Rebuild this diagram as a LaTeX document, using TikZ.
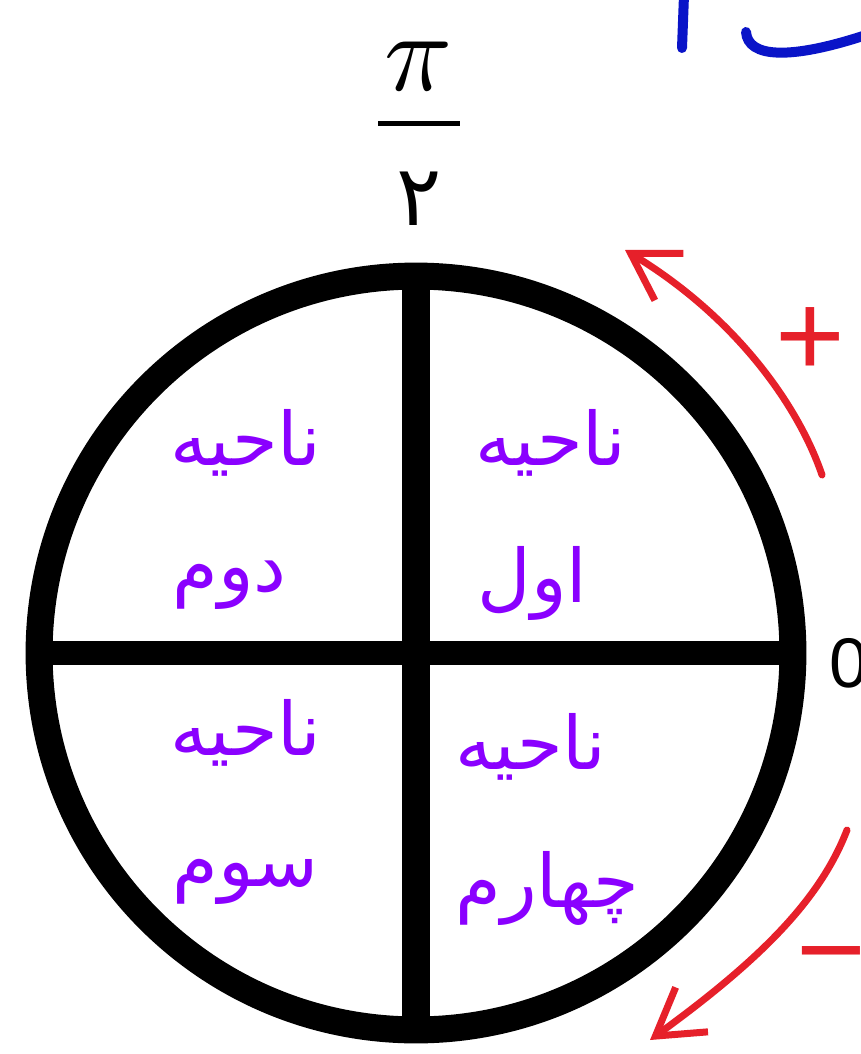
\documentclass[tikz,border=0pt]{standalone}
\usepackage{fontspec}
\usetikzlibrary{arrows.meta}
\TeXXeTstate=1
\newfontfamily\arabicfont[Script=Arabic]{DejaVu Sans}
\newfontfamily\signfont{Liberation Sans}
\definecolor{region}{HTML}{8A00FF}
\definecolor{sign}{HTML}{E6202A}
\definecolor{pen}{HTML}{0A14C8}

\begin{document}
\begin{tikzpicture}[x=0.02cm,y=-0.02cm,
  regionlabel/.style={region,font=\fontsize{42}{46}\arabicfont,anchor=west,inner sep=0pt},
  signarrow/.style={sign,line width=0.14cm,line cap=round,-{Straight Barb[length=0.9cm,width=1.1cm]}},
  signmark/.style={sign,font=\fontsize{68}{70}\signfont,inner sep=0pt},
  penstroke/.style={pen,line width=0.2cm,line cap=round}]
  % Canvas
  \fill[white] (0,0) rectangle (861,1054);
  \useasboundingbox (0,0) rectangle (861,1054);

  % Circle and axes
  \node[draw,circle,line width=0.54cm,minimum size=15.08cm,inner sep=0pt,outer sep=0pt] (dial) at (416,653) {};
  \draw[line width=0.56cm] (dial.north) -- (dial.south);
  \draw[line width=0.48cm] (dial.west) -- (dial.east);

  % pi over 2
  \node[scale=6.4,inner sep=0pt] (pinum) at (419,66) {$\pi$};
  \coordinate (barleft) at (378,124);
  \coordinate (barright) at (460,124);
  \draw[line width=0.1cm] (barleft) -- (barright);
  \node[font=\fontsize{48}{50}\arabicfont,inner sep=0pt] (piden) at (419,199) {۲};

  % Zero, cut at the edge
  \node[font=\fontsize{40}{42}\signfont,anchor=west,inner sep=0pt] (zero) at (829,663) {0};

  % Region labels
  \node[regionlabel] (onetop) at (475,443) {\arabicfont\beginR ناحیه\endR};
  \node[regionlabel] (onebot) at (477,583) {\arabicfont\beginR اول\endR};
  \node[regionlabel] (twotop) at (170,443) {\arabicfont\beginR ناحیه\endR};
  \node[regionlabel] (twobot) at (172,585) {\arabicfont\beginR دوم\endR};
  \node[regionlabel] (threetop) at (170,733) {\arabicfont\beginR ناحیه\endR};
  \node[regionlabel] (threebot) at (172,882) {\arabicfont\beginR سوم\endR};
  \node[regionlabel] (fourtop) at (455,747) {\arabicfont\beginR ناحیه\endR};
  \node[regionlabel] (fourbot) at (455,888) {\arabicfont\beginR چهارم\endR};

  % Positive direction
  \coordinate (posstart) at (822,475);
  \coordinate (posend) at (625,250);
  \draw[signarrow] (posstart) .. controls (800,410) and (740,320) .. (posend);
  \node[signmark] (plus) at (810,342) {+};

  % Negative direction
  \coordinate (negstart) at (847,830);
  \coordinate (negend) at (650,1040);
  \draw[signarrow] (negstart) .. controls (820,900) and (760,960) .. (negend);
  \node[signmark,anchor=west] (minus) at (796,968) {−};

  % Pen strokes at the top
  \draw[penstroke] (684,-5) -- (682,48);
  \draw[penstroke] (746,32) .. controls (748,58) and (790,60) .. (866,35);
\end{tikzpicture}
\end{document}
